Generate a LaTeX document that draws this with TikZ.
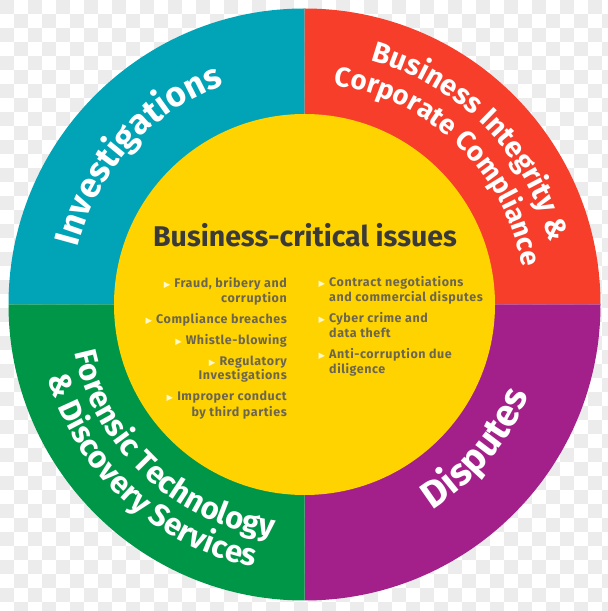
\documentclass[tikz,border=0pt]{standalone}
\usepackage{fontspec}
\setmainfont{Fira Sans}
\newfontfamily\symfont{DejaVu Sans}
\usetikzlibrary{decorations.text}
\definecolor{cTeal}{RGB}{0,164,182}
\definecolor{cRed}{RGB}{246,62,42}
\definecolor{cPurple}{RGB}{163,32,138}
\definecolor{cGreen}{RGB}{0,150,72}
\definecolor{cYellow}{RGB}{254,211,0}
\definecolor{cTitle}{RGB}{58,58,58}
\definecolor{cList}{RGB}{108,102,80}
\definecolor{cBul}{RGB}{255,248,200}
\definecolor{cCheck}{RGB}{236,236,236}
\newcommand\ringf[1]{\fontsize{#1}{#1}\selectfont\bfseries\color{white}}
\newcommand\bul{{\symfont\fontsize{8.5}{8.5}\selectfont\color{cBul}▶}\hspace{4pt}}
\tikzset{
  listtext/.style={font=\bfseries\fontsize{12.5}{15}\selectfont\addfontfeature{LetterSpace=4.5}, text=cList, inner sep=0pt},
  lefttext/.style={listtext, anchor=base east},
  righttext/.style={listtext, anchor=base west},
}
\begin{document}
\begin{tikzpicture}[x=1pt,y=1pt]
\useasboundingbox (0,0) rectangle (608,611);
% checkerboard background
\begin{scope}
\clip (0,0) rectangle (608,611);
\foreach \i in {0,...,43}{
  \foreach \j in {0,...,43}{
    \pgfmathtruncatemacro\p{mod(\i+\j,2)}
    \ifnum\p=0
      \fill[cCheck] (\i*14,611-\j*14) rectangle ++(14,-14);
    \fi
  }
}
\end{scope}
\coordinate (C) at (304.5,306.5);
\begin{scope}[shift={(C)}]
  \fill[cTeal] (0,0) -- (180:296) arc[start angle=180,end angle=90,radius=296] -- cycle;
  \fill[cRed] (0,0) -- (90:296) arc[start angle=90,end angle=0,radius=296] -- cycle;
  \fill[cPurple] (0,0) -- (0:296) arc[start angle=0,end angle=-90,radius=296] -- cycle;
  \fill[cGreen] (0,0) -- (-90:296) arc[start angle=-90,end angle=-180,radius=296] -- cycle;
  \fill[cYellow] (0,0) circle[radius=190.5];
  % ring texts
  \path[decorate, decoration={text along path, text align=center,
    text={|\ringf{35}|Investigations}}]
    (180:234) arc[start angle=180,end angle=96,radius=234];
  \path[decorate, decoration={text along path, text align=center,
    text={|\ringf{29}|Business Integrity {\&}}}]
    (90:253) arc[start angle=90,end angle=-1,radius=253];
  \path[decorate, decoration={text along path, text align=center,
    text={|\ringf{27.5}|Corporate Compliance}}]
    (92:221) arc[start angle=92,end angle=0,radius=221];
  \path[decorate, decoration={text along path, text align=center,
    text={|\ringf{31}|Forensic Technology}}]
    (180:235) arc[start angle=180,end angle=274,radius=235];
  \path[decorate, decoration={text along path, text align=center,
    text={|\ringf{31}|{\&} Discovery Services}}]
    (182:267) arc[start angle=182,end angle=273,radius=267];
  \path[decorate, decoration={text along path, text align=center,
    text={|\ringf{38}|Disputes}}]
    (270:242) arc[start angle=270,end angle=370,radius=242];
\end{scope}
% centre title
\node[font=\bfseries\fontsize{28.5}{28.5}\selectfont, text=cTitle, anchor=base, inner sep=0pt] (title) at (305,364) {Business-critical issues};
% left column
\node[lefttext] (l1a) at (287,323.5) {\bul Fraud, bribery and};
\node[lefttext] (l1b) at (287,308.5) {corruption};
\node[lefttext] (l2) at (287,287.5) {\bul Compliance breaches};
\node[lefttext] (l3) at (287,266.5) {\bul Whistle-blowing};
\node[lefttext] (l4a) at (287,245.5) {\bul Regulatory};
\node[lefttext] (l4b) at (287,231) {Investigations};
\node[lefttext] (l5a) at (287,210) {\bul Improper conduct};
\node[lefttext] (l5b) at (287,194.5) {by third parties};
% right column
\node[righttext] (r1a) at (329,324.5) {\llap{\bul}Contract negotiations};
\node[righttext] (r1b) at (329,309.5) {and commercial disputes};
\node[righttext] (r2a) at (329,288.5) {\llap{\bul}Cyber crime and};
\node[righttext] (r2b) at (329,273) {data theft};
\node[righttext] (r3a) at (329,252.5) {\llap{\bul}Anti-corruption due};
\node[righttext] (r3b) at (329,237.5) {diligence};
\end{tikzpicture}
\end{document}
